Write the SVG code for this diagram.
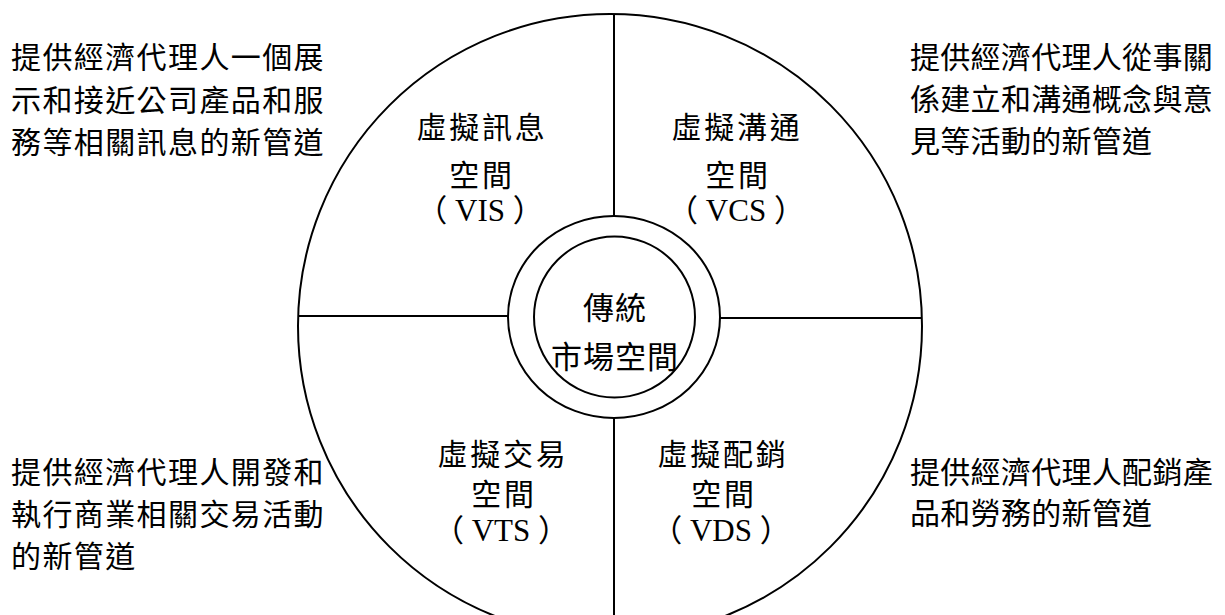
<svg xmlns="http://www.w3.org/2000/svg" width="1225" height="615" viewBox="0 0 1225 615">
<style>
.ln{fill:none;stroke:#000;stroke-width:2}
.t{font-family:"Noto Sans CJK TC","Noto Sans CJK SC",sans-serif;font-size:30px;fill:#000;dominant-baseline:central}
.d{letter-spacing:1.4px}
.r{letter-spacing:0.3px}
.c{text-anchor:middle;letter-spacing:2.7px}
.p{font-family:"Liberation Serif","Noto Sans CJK TC",serif;font-size:31px;fill:#000;text-anchor:middle;dominant-baseline:central}
</style>
<rect width="1225" height="615" fill="#fff"/>
<g id="connectors">
<circle class="ln" cx="610" cy="326" r="312"/>
<line class="ln" x1="614" y1="14" x2="614" y2="216"/>
<line class="ln" x1="614" y1="418" x2="614" y2="615"/>
<line class="ln" x1="298" y1="316" x2="508" y2="316"/>
<line class="ln" x1="720" y1="318" x2="922" y2="318"/>
</g>
<g id="center">
<ellipse class="ln" cx="614" cy="317" rx="106" ry="101"/>
<circle class="ln" cx="614.5" cy="317" r="80.5"/>
<text class="t" x="615" y="305" style="font-size:31px;text-anchor:middle;letter-spacing:1px">傳統</text>
<text class="t" x="615" y="354" style="font-size:31px;text-anchor:middle;letter-spacing:1px">市場空間</text>
</g>
<g id="vis">
<text class="t c" x="482" y="125">虛擬訊息</text>
<text class="t c" x="482" y="173">空間</text>
<text class="p" x="480" y="210">（ VIS ）</text>
</g>
<g id="vcs">
<text class="t c" x="737" y="125">虛擬溝通</text>
<text class="t c" x="738" y="173">空間</text>
<text class="p" x="736" y="210">（ VCS ）</text>
</g>
<g id="vts">
<text class="t c" x="503" y="452">虛擬交易</text>
<text class="t c" x="504" y="492">空間</text>
<text class="p" x="501" y="530">（ VTS ）</text>
</g>
<g id="vds">
<text class="t c" x="723" y="452">虛擬配銷</text>
<text class="t c" x="724" y="492">空間</text>
<text class="p" x="721" y="530">（ VDS ）</text>
</g>
<g id="desc-vis">
<text class="t d" x="11" y="55">提供經濟代理人一個展</text>
<text class="t d" x="11" y="98">示和接近公司產品和服</text>
<text class="t d" x="11" y="140">務等相關訊息的新管道</text>
</g>
<g id="desc-vcs">
<text class="t r" x="910" y="55">提供經濟代理人從事關</text>
<text class="t r" x="910" y="97">係建立和溝通概念與意</text>
<text class="t r" x="910" y="139">見等活動的新管道</text>
</g>
<g id="desc-vts">
<text class="t d" x="11" y="470">提供經濟代理人開發和</text>
<text class="t d" x="11" y="512">執行商業相關交易活動</text>
<text class="t d" x="11" y="554">的新管道</text>
</g>
<g id="desc-vds">
<text class="t r" x="910" y="470">提供經濟代理人配銷產</text>
<text class="t r" x="910" y="511">品和勞務的新管道</text>
</g>
</svg>
